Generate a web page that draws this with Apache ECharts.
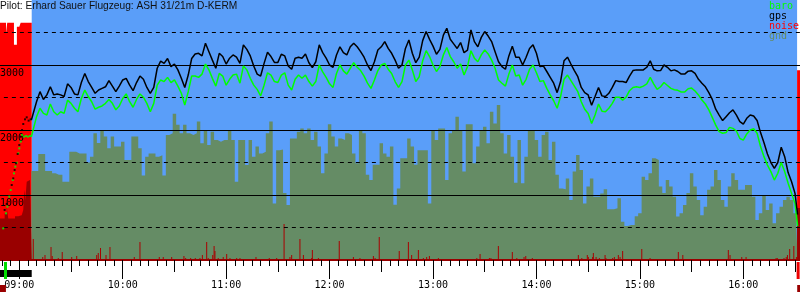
<!DOCTYPE html>
<html><head><meta charset="utf-8">
<script src="https://cdn.jsdelivr.net/npm/echarts@6/dist/echarts.min.js"></script>
<style>html,body{margin:0;padding:0;background:#fff}#c{width:800px;height:300px}</style>
</head><body><div id="c"></div>
<script>
// ---- text ----
const titleText = 'Pilot: Erhard Sauer Flugzeug: ASH 31/21m D-KERM';
const legendNames = ['baro', 'gps', 'noise', 'gnd'];
const yLabelValues = [1000, 2000, 3000];

// ---- flight track: minutes after 09:00 ----
const trackTimes = [7, 8,
 10,12,14,16,18,20,22,24,26,28,
 30,32,34,36,38,40,42,44,46,48,
 50,52,54,56,58,60,62,64,66,68,
 70,72,74,76,78,80,82,84,86,88,
 90,92,94,96,98,100,102,104,106,108,
 110,112,114,116,118,120,122,124,126,128,
 130,132,134,136,138,140,142,144,146,148,
 150,152,154,156,158,160,162,164,166,168,
 170,172,174,176,178,180,182,184,186,188,
 190,192,194,196,198,200,202,204,206,208,
 210,212,214,216,218,220,222,224,226,228,
 230,232,234,236,238,240,242,244,246,248,
 250,252,254,256,258,260,262,264,266,268,
 270,272,274,276,278,280,282,284,286,288,
 290,292,294,296,298,300,302,304,306,308,
 310,312,314,316,318,320,322,324,326,328,
 330,332,334,336,338,340,342,344,346,348,
 350,352,354,356,358,360,362,364,366,368,
 370,372,374,376,378,380,382,384,386,388,
 390,392,394,396,398,400,402,404,406,408,
 410,412,414,416,418,420,422,424,426,428,
 430,432,434,436,438,440,442,444,446,448,
 450, 451.5];

const gpsAlt = [2155, 2165,
 2435,2590,2470,2540,2665,2540,2555,2540,2515,2710,
 2655,2555,2540,2730,2870,2745,2655,2565,2615,2640,
 2665,2760,2675,2590,2675,2770,2795,2690,2605,2730,
 2830,2780,2655,2565,2655,2950,3060,3025,3100,2975,
 3015,2925,2795,2655,2845,3100,3170,3180,3140,3335,
 3205,3075,2950,3180,3130,3015,3105,3155,3120,3025,
 3310,3240,3140,2985,2860,2830,3025,3195,3130,3040,
 3040,3165,3140,2985,2935,3105,3120,3105,3170,3035,
 2960,3050,3310,3190,3105,3000,2965,3155,3280,3190,
 3155,3280,3335,3280,3205,3120,3000,2915,3050,3230,
 3280,3360,3255,3180,3075,2950,3000,3255,3385,3180,
 3035,3120,3375,3515,3395,3290,3165,3240,3460,3565,
 3395,3325,3255,3345,3190,3230,3540,3360,3280,3425,
 3515,3445,3360,3205,3050,2975,2935,3140,3290,3120,
 3120,3000,3120,3255,3310,3180,2975,2985,2900,2810,
 2720,2575,2745,3065,3120,3015,2915,2820,2655,2575,
 2540,2380,2515,2655,2525,2515,2565,2655,2760,2745,
 2745,2730,2830,2915,2925,2925,2925,2965,3065,2935,
 2910,2915,3000,2965,2910,2925,2900,2860,2860,2905,
 2910,2870,2780,2720,2665,2575,2470,2320,2230,2145,
 2205,2265,2310,2230,2130,2090,2180,2230,2215,2145,
 1960,1805,1630,1500,1410,1500,1735,1590,1345,1205,
 1025, 700];

const baroAlt = [1895, 1925,
 2205,2335,2255,2230,2400,2280,2230,2280,2255,2460,
 2410,2335,2280,2485,2615,2515,2435,2320,2350,2370,
 2410,2470,2410,2310,2370,2485,2555,2435,2350,2470,
 2555,2505,2410,2280,2410,2690,2770,2745,2810,2730,
 2770,2675,2565,2385,2590,2830,2830,2810,2860,3015,
 2925,2795,2675,2870,2830,2690,2780,2845,2860,2720,
 2985,2925,2795,2690,2625,2525,2690,2880,2845,2745,
 2730,2845,2880,2690,2615,2780,2845,2795,2845,2745,
 2675,2745,3000,2895,2810,2710,2655,2870,3000,2910,
 2860,2950,3035,2965,2915,2830,2720,2640,2770,2915,
 3000,3025,2935,2870,2745,2655,2745,3000,3075,2925,
 2745,2820,3065,3220,3130,3000,2900,2975,3155,3270,
 3130,3050,2950,3015,2845,2975,3220,3105,3050,3155,
 3230,3170,3075,2950,2770,2720,2675,2860,3000,2830,
 2845,2690,2780,2935,3000,2880,2745,2760,2640,2540,
 2450,2335,2515,2780,2845,2760,2675,2590,2435,2320,
 2255,2100,2230,2400,2290,2280,2335,2410,2505,2505,
 2460,2505,2605,2655,2665,2655,2675,2710,2810,2710,
 2625,2665,2730,2685,2640,2620,2610,2585,2585,2635,
 2645,2600,2540,2460,2400,2310,2195,2075,1975,1950,
 1960,2040,2025,1985,1870,1845,1940,2000,2020,1950,
 1745,1590,1460,1360,1230,1335,1500,1360,1180,1025,
 870, 520];

const gndAlt = [1370, 1370,
 1370,1630,1630,1370,1370,1335,1310,1310,1205,1205,
 1665,1665,1640,1640,1640,1500,1590,1950,1800,1985,
 1900,1720,1900,1745,1745,1820,1540,1540,1900,1900,
 1720,1300,1590,1640,1640,1590,1610,1300,1925,1950,
 2250,2080,1950,2080,1950,1925,1950,2130,1795,1990,
 1770,1975,1845,1820,1845,1845,2000,1845,1205,1845,
 1845,1460,1845,1590,1745,1640,1665,1950,2130,870,
 1690,1700,1030,845,1870,1870,1975,2025,1950,2025,
 1845,1975,1745,1335,1640,2090,1900,1745,1870,1845,
 1950,1925,1640,1490,1985,1950,1310,1230,1465,1465,
 1795,1640,1590,1745,850,1100,1565,1565,1870,1745,
 1465,1690,1690,1690,870,2000,1845,2025,2025,1230,
 1950,2000,2205,2000,1360,2090,2090,1490,1745,2000,
 2050,1795,2280,2100,2385,1950,1640,1925,1590,1190,
 1845,1180,1590,2000,2000,1845,1590,1925,1975,1540,
 1820,1310,1100,1090,1255,925,1360,1615,1385,870,
 1130,1255,975,975,1025,1090,780,780,795,950,
 590,525,540,540,675,720,1280,1230,1335,1565,
 1540,1130,1030,1230,1130,975,670,720,845,1030,
 1335,1130,925,690,820,1080,1130,1385,1230,925,
 820,1130,1335,1230,1080,1080,1155,1155,975,615,
 720,1000,770,870,565,720,820,925,975,925,
 720, 510];

// ---- climb under engine (sparse fixes) ----
const climbBaroTimes = [-9.3,-7.7,-6.9,-5.8,-5.0,-3.8,-3.1,-2.3,-1.5,-0.6,0.0,0.8,1.6,2.7,3.9,5.0,6.2];
const climbBaro = [487,718,820,975,1077,1231,1333,1436,1497,1641,1718,1821,1923,1897,1908,1897,1908];
const climbGpsTimes = [-8.5,-7.3,-4.4,-3.5,-2.7,-1.9,-0.95,0.0,0.8,1.6,2.3,3.3,4.3,5.4,6.6];
const climbGps = [770,862,1154,1256,1385,1487,1631,1769,1897,2000,2092,2164,2195,2144,2164];

// ---- engine noise ----
const engineTimes = [-12,-7.7,-7.0,-3.1,-1.4,0.0,0.8,7.2,7.21,451.2,456];
const engineLevel = [3650,3490,3650,3310,3590,3615,3650,3650,null,2920,2920];
const engineGndTimes = [-12,-8.5,-7.3,-6.4,-2.5,-0.6,1.4,2.3,2.9,3.5,4.3,5.2,6.2,7.2,7.21,451.2,456];
const engineGnd = [640,720,820,640,675,690,720,770,1080,925,1205,1230,1205,1205,null,800,800];
const noiseTimes = [8.1,13.6,14.9,17.4,18.4,19.1,22.6,24.9,30.4,33.3,
 44.9,45.8,47.1,50.3,52.6,66.7,70.0,81.2,83.5,88.4,
 95.5,96.5,99.4,102.1,104.8,106.2,108.7,109.6,112.2,113.0,
 113.5,115.4,118.3,120.3,122.2,126.1,128.0,137.3,145.0,149.3,
 153.6,157.0,158.0,162.8,164.8,169.6,170.0,173.5,185.6,193.8,
 197.6,205.4,206.4,208.8,220.4,225.7,227.6,231.5,234.4,236.3,
 237.9,243.1,253.7,259.1,265.4,267.3,272.7,273.6,277.9,286.0,
 288.6,289.5,292.8,293.8,297.6,303.6,315.2,324.3,326.3,329.5,
 330.1,332.6,333.0,334.6,336.5,339.8,340.3,344.2,345.2,347.5,
 348.5,350.0,361.1,364.0,365.9,382.3,384.9,411.3,412.3,419.1,
 421.6,431.6,439.0,439.7,443.6,444.9,445.6,446.9,449.3,450.8];
const noiseLevel = [81,12,19,4,50,15,8,31,12,15,
 19,27,46,19,50,12,69,12,12,12,
 15,8,8,8,8,19,69,8,19,54,
 35,8,12,23,8,8,8,12,8,8,
 138,12,19,81,19,8,38,8,73,12,
 8,15,8,88,35,69,19,38,8,12,
 15,8,4,4,8,23,8,8,54,31,
 8,4,12,15,8,4,4,19,8,19,
 12,12,27,12,8,19,8,8,12,19,
 12,35,42,4,8,31,19,38,19,12,
 12,4,8,8,8,12,19,42,54,12];

// ---- flight phases ----
const glideSpan = [7.2, 451.2];          // engine off
const engineRun = [[-12, 7.2]];           // engine on (bar under axis)
const fixMarkTimes = [-8.0, 451.8];       // takeoff / landing
const fixMarkColors = ['#00dd00', '#ee0000'];
const loggerMarkTimes = [-9.5, 453];

const BLUE = '#5a9ef9', GND = '#658c65', DARKRED = '#990000';
const mono = '"DejaVu Sans Mono", monospace';

function hhmm(v) {
  const m = Math.round(v) + 540;
  return String(Math.floor(m / 60)).padStart(2, '0') + ':' + String(m % 60).padStart(2, '0');
}
const zip = (a, b) => a.map((t, i) => [t, b[i]]);

const chart = echarts.init(document.getElementById('c'), null, {renderer: 'canvas'});
const xBase = {type: 'value', min: -60, max: 480, position: 'bottom', z: 3,
  splitLine: {show: false}, axisLine: {show: false, onZero: false}};
const tickStyle = {color: '#000', width: 1};

chart.setOption({
  animation: false,
  backgroundColor: '#fff',
  grid: {left: -84.13, width: 930.87, top: 0, height: 260, outerBoundsMode: 'none', containLabel: false},
  xAxis: [
    Object.assign({}, xBase, {interval: 5,
      axisLine: {show: true, onZero: false, lineStyle: {color: DARKRED, width: 2}},
      axisTick: {show: true, length: 6, lineStyle: tickStyle}, axisLabel: {show: false}}),
    Object.assign({}, xBase, {interval: 30,
      axisTick: {show: true, length: 12, lineStyle: tickStyle}, axisLabel: {show: false}}),
    Object.assign({}, xBase, {interval: 60,
      axisTick: {show: true, length: 19, lineStyle: tickStyle},
      axisLabel: {show: true, margin: 20, formatter: hhmm, fontFamily: mono, fontSize: 10, color: '#000'}})
  ],
  yAxis: [
    {type: 'value', min: 0, max: 4000, interval: 1000, position: 'left', offset: -84.13, z: 3,
      axisLine: {show: false}, axisTick: {show: false},
      splitLine: {show: true, showMinLine: false, showMaxLine: false, lineStyle: {color: '#000', width: 1}},
      axisLabel: {inside: true, margin: 0, verticalAlign: 'top', padding: [3, 0, 0, 0],
        fontFamily: mono, fontSize: 10, color: '#000',
        formatter: v => yLabelValues.includes(v) ? String(v) : ''}},
    {type: 'value', min: 0, max: 1000, position: 'right', show: false},
    {type: 'value', min: 0, max: 4000, interval: 500, position: 'left', z: 3,
      axisLine: {show: false}, axisTick: {show: false}, axisLabel: {show: false},
      splitLine: {show: true, showMinLine: false, showMaxLine: false,
        lineStyle: {color: '#000', width: 1, type: [4, 4]}}}
  ],
  series: [
    {type: 'line', name: 'bg', data: [[glideSpan[0], 0]], symbol: 'none', lineStyle: {width: 0}, z: 0, silent: true,
      markArea: {silent: true, z: 0, itemStyle: {color: BLUE},
        data: [[{xAxis: glideSpan[0], yAxis: 0}, {xAxis: glideSpan[1], yAxis: 4000}]]}},
    {type: 'line', name: 'engine', step: 'end', data: zip(engineTimes, engineLevel), symbol: 'none',
      lineStyle: {width: 0}, areaStyle: {color: '#ff0000', opacity: 1}, z: 1, silent: true},
    {type: 'line', name: 'gnd', step: 'middle', data: zip(trackTimes, gndAlt), symbol: 'none',
      lineStyle: {width: 0}, areaStyle: {color: GND, opacity: 1}, z: 2, silent: true},
    {type: 'line', name: 'gndEngine', step: 'end', data: zip(engineGndTimes, engineGnd), symbol: 'none',
      lineStyle: {width: 0}, areaStyle: {color: DARKRED, opacity: 1}, z: 2, silent: true},
    {type: 'bar', name: 'noise', yAxisIndex: 1, data: zip(noiseTimes, noiseLevel), barWidth: 1,
      itemStyle: {color: '#aa0000'}, z: 2, silent: true},
    {type: 'line', name: 'baro', data: zip(trackTimes, baroAlt), symbol: 'none',
      lineStyle: {color: '#00ff00', width: 1.5}, z: 5, silent: true},
    {type: 'line', name: 'gps', data: zip(trackTimes, gpsAlt), symbol: 'none',
      lineStyle: {color: '#000', width: 1.5}, z: 6, silent: true},
    {type: 'scatter', name: 'baroClimb', data: zip(climbBaroTimes, climbBaro), symbol: 'rect', symbolSize: 2,
      itemStyle: {color: '#00ff00'}, z: 5, silent: true},
    {type: 'scatter', name: 'gpsClimb', data: zip(climbGpsTimes, climbGps), symbol: 'rect', symbolSize: 2,
      itemStyle: {color: '#000'}, z: 6, silent: true},
    {type: 'custom', name: 'marks', clip: false, z: 6, silent: true,
      dimensions: ['t0', 't1', 'kind', 'idx'],
      data: engineRun.map(r => [r[0], r[1], 0, 0]).concat(
        fixMarkTimes.map((t, i) => [t, t, 1, i]),
        loggerMarkTimes.map((t, i) => [t, t, 2, i])),
      renderItem: (params, api) => {
        const kind = api.value(2);
        const p0 = api.coord([api.value(0), 0]);
        const p1 = api.coord([api.value(1), 0]);
        if (kind === 0) return {type: 'rect', shape: {x: p0[0], y: p0[1] + 10, width: p1[0] - p0[0], height: 7}, style: {fill: '#000'}};
        if (kind === 1) return {type: 'rect', z2: 5, shape: {x: p0[0] - 1.5, y: p0[1] + 2, width: 3, height: 17}, style: {fill: fixMarkColors[api.value(3)]}};
        return {type: 'rect', shape: {x: p0[0] - 3, y: p0[1] + 25, width: 6, height: 7}, style: {fill: DARKRED}};
      }}
  ],
  graphic: [
    {type: 'text', left: 0, top: 1, z: 100, style: {text: titleText, font: '10.2px "Liberation Sans", Arial', fill: '#111'}}
  ].concat(legendNames.map((n, i) => ({type: 'text', left: 769, top: 1 + 10 * i, z: 100,
      style: {text: n, font: '10px ' + mono, fill: ['#00ff00', '#000000', '#ff0000', GND][i]}})))
});
</script></body></html>
